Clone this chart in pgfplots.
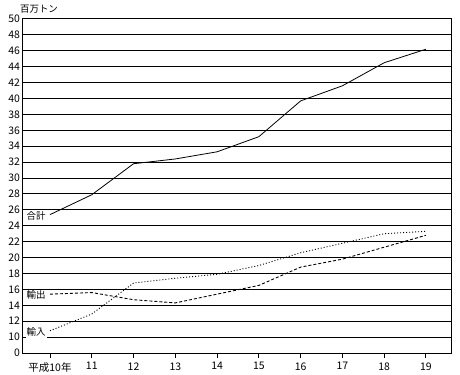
\documentclass[border=0pt]{standalone}
\usepackage{pgfplots}
\pgfplotsset{compat=1.18}
\usepackage{fontspec}
\setmainfont{Noto Sans CJK JP}
\usetikzlibrary{calc}
\begin{document}
\begin{tikzpicture}
\begin{axis}[name=ax, scale only axis, width=429bp, height=334bp,
  xmin=9.33, xmax=19.6, ymin=0, ymax=42,
  y filter/.expression={y-8},
  xtick={10,11,12,13,14,15,16,17,18,19},
  xticklabels={平成10年,11,12,13,14,15,16,17,18,19},
  ytick={0,2,4,6,8,10,12,14,16,18,20,22,24,26,28,30,32,34,36,38,40,42},
  yticklabels={0,10,12,14,16,18,20,22,24,26,28,30,32,34,36,38,40,42,44,46,48,50},
  ymajorgrids, grid style={black, line width=1bp},
  axis line style={black, line width=1bp},
  xtick align=outside, ytick align=inside,
  xtick pos=left, ytick pos=left,
  major tick length=5bp,
  tick style={black, line width=0.9bp},
  ytick style={draw=none},
  tick label style={font=\fontsize{10.5}{12}\selectfont, black},
  xticklabel style={yshift=-1bp},
  yticklabel style={xshift=1.5bp},
  /pgf/number format/assume math mode=true,
]
\addplot[black, line width=0.8bp] coordinates {(10,25.4) (11,27.9) (12,31.8) (13,32.4) (14,33.3) (15,35.2) (16,39.7) (17,41.6) (18,44.5) (19,46.2)};
\addplot[black, line width=0.9bp, dash pattern=on 3bp off 2bp] coordinates {(10,15.4) (11,15.6) (12,14.7) (13,14.3) (14,15.4) (15,16.5) (16,18.8) (17,19.8) (18,21.3) (19,22.8)};
\addplot[black, line width=0.9bp, dash pattern=on 1bp off 2bp] coordinates {(10,10.8) (11,12.9) (12,16.8) (13,17.4) (14,17.9) (15,19.0) (16,20.6) (17,21.8) (18,23.0) (19,23.3)};
\node[font=\fontsize{9.5}{11}\selectfont, fill=white, inner sep=1bp] at (axis cs:9.67,17.3) {合計};
\node[font=\fontsize{9.5}{11}\selectfont, fill=white, inner sep=1bp] at (axis cs:9.67,7.3) {輸出};
\node[font=\fontsize{9.5}{11}\selectfont, fill=white, inner sep=1bp] at (axis cs:9.67,2.6) {輸入};
\end{axis}
\node[font=\fontsize{9.5}{11}\selectfont, anchor=center] at ($(ax.north west)+(17bp,10bp)$) {百万トン};
\pgfresetboundingbox
\path ($(ax.south west)+(-22bp,-22bp)$) rectangle ($(ax.north east)+(9bp,19bp)$);
\end{tikzpicture}
\end{document}
